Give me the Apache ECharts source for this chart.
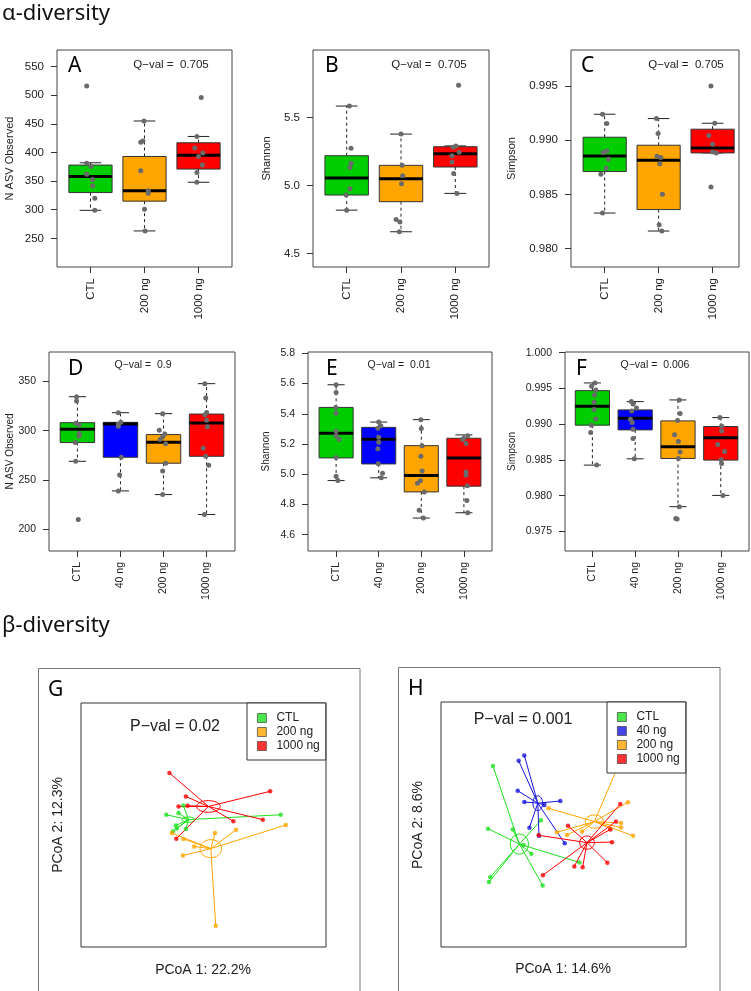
<!DOCTYPE html>
<html><head><meta charset="utf-8">
<script src="https://cdn.jsdelivr.net/npm/echarts@6/dist/echarts.min.js"></script>
<style>html,body{margin:0;padding:0;background:#fff}#c{width:751px;height:991px}</style>
</head><body><div id="c"></div>
<script>
// ---------------- DATA ----------------
const catsABC = ['CTL', '200 ng', '1000 ng'];
const catsDEF = ['CTL', '40 ng', '200 ng', '1000 ng'];

// box stats per category: [lower whisker, Q1, median, Q3, upper whisker]
const boxA = [[299, 330, 358, 378, 382], [263, 315, 333, 393, 455], [348, 371, 395, 417, 428]];
const boxB = [[4.818, 4.929, 5.054, 5.218, 5.583], [4.659, 4.880, 5.049, 5.147, 5.377], [4.941, 5.135, 5.232, 5.284, 5.290]];
const boxC = [[0.98328, 0.98711, 0.98855, 0.99028, 0.99240], [0.98162, 0.98360, 0.98815, 0.98954, 0.99200], [0.98883, 0.98883, 0.98929, 0.99102, 0.99157]];
const boxD = [[268.9, 287.9, 301.3, 308.1, 334.4], [238.9, 273.0, 306.7, 308.4, 318.2], [235.2, 267.0, 288.2, 296.0, 317.2], [215.0, 274.0, 307.7, 316.8, 347.6]];
const boxE = [[4.958, 5.108, 5.271, 5.442, 5.592], [4.976, 5.068, 5.231, 5.310, 5.345], [4.710, 4.883, 4.991, 5.189, 5.361], [4.745, 4.921, 5.108, 5.238, 5.260]];
const boxF = [[0.98427, 0.98986, 0.99251, 0.99469, 0.99577], [0.98515, 0.98920, 0.99084, 0.99200, 0.99316], [0.97845, 0.98520, 0.98683, 0.99046, 0.99339], [0.98003, 0.98497, 0.98809, 0.98967, 0.99092]];

// sample points per category: [jitter offset, value]
const ptsA = [
  [[-0.07, 516], [-0.07, 381], [0.01, 376], [-0.07, 362], [0.04, 353], [0.04, 342], [0.08, 320], [0.08, 299]],
  [[-0.01, 455], [-0.07, 418], [-0.03, 420], [-0.07, 368], [0.07, 333], [0.07, 329], [0, 301], [0.01, 263]],
  [[0.05, 496], [-0.03, 428], [-0.07, 408], [0.08, 399], [0, 393], [0.07, 378], [-0.03, 365], [-0.03, 348]]
];
const ptsB = [
  [[0.05, 5.583], [0.08, 5.272], [0.08, 5.162], [0.06, 5.132], [0.06, 4.975], [-0.01, 4.929], [0, 4.818]],
  [[0, 5.377], [0.02, 5.147], [0.03, 5.071], [0.01, 5.012], [-0.09, 4.750], [-0.02, 4.730], [-0.03, 4.659]],
  [[0.06, 5.735], [0.01, 5.290], [-0.04, 5.280], [0.07, 5.243], [-0.06, 5.218], [-0.06, 5.171], [-0.03, 5.088], [0.03, 4.941]]
];
const ptsC = [
  [[-0.04, 0.99240], [0.04, 0.99154], [-0.03, 0.98886], [0.04, 0.98901], [0.07, 0.98824], [0.03, 0.98744], [-0.07, 0.98686], [-0.04, 0.98328]],
  [[-0.04, 0.99200], [-0.01, 0.99062], [-0.03, 0.98852], [0.04, 0.98840], [0.02, 0.98784], [0.07, 0.98501], [0.01, 0.98221], [0.06, 0.98162]],
  [[-0.03, 0.99500], [0.04, 0.99157], [-0.07, 0.99043], [0, 0.98963], [0, 0.98892], [0.07, 0.98883], [-0.03, 0.98568]]
];
const ptsD = [
  [[-0.02, 334.4], [-0.02, 330.0], [-0.04, 307.4], [0.04, 305.7], [0.04, 297.0], [0.04, 294.6], [-0.05, 288.0], [-0.04, 268.9], [0.02, 209.9]],
  [[-0.05, 318.2], [0.01, 308.4], [-0.05, 306.7], [-0.05, 304.4], [0.02, 273.0], [-0.02, 255.0], [-0.05, 238.9]],
  [[-0.02, 317.2], [-0.10, 300.3], [0.03, 296.6], [-0.02, 293.6], [-0.08, 290.9], [0.05, 286.8], [0.05, 267.0], [-0.02, 259.2], [-0.02, 235.2]],
  [[-0.04, 347.6], [-0.02, 333.0], [-0.04, 316.2], [0, 318.5], [0, 310.4], [0.02, 304.0], [-0.08, 282.1], [-0.02, 274.0], [0.05, 265.0], [-0.05, 215.0]]
];
const ptsE = [
  [[0, 5.592], [0, 5.541], [-0.01, 5.442], [0, 5.403], [0, 5.284], [0, 5.255], [0.07, 5.231], [0, 5.110], [0, 4.987], [0.04, 4.958]],
  [[0, 5.345], [0.05, 5.320], [-0.02, 5.304], [0, 5.244], [0, 5.211], [-0.02, 5.169], [-0.01, 5.070], [0.09, 5.007], [0.06, 4.976]],
  [[-0.01, 5.361], [0, 5.302], [0.02, 5.189], [-0.01, 5.119], [0.02, 5.022], [-0.02, 4.956], [-0.09, 4.941], [0.07, 4.883], [-0.05, 4.762], [0.05, 4.710]],
  [[0.09, 5.255], [-0.01, 5.236], [-0.03, 5.229], [0.05, 5.203], [0.05, 5.015], [0.05, 4.993], [0.08, 4.923], [0.07, 4.826], [0.09, 4.745]]
];
const ptsF = [
  [[0.06, 0.99577], [-0.02, 0.99531], [0.08, 0.99479], [0.05, 0.99409], [0.04, 0.99307], [0.04, 0.99204], [0.08, 0.99074], [-0.02, 0.98986], [-0.04, 0.98883], [0.10, 0.98427]],
  [[-0.09, 0.99316], [-0.05, 0.99284], [0.03, 0.99228], [-0.08, 0.99186], [-0.11, 0.99070], [-0.07, 0.99022], [-0.05, 0.98930], [-0.05, 0.98799], [-0.02, 0.98515]],
  [[0.03, 0.99339], [0.05, 0.99148], [-0.01, 0.99050], [-0.08, 0.98851], [0.01, 0.98757], [0.05, 0.98609], [0.01, 0.98520], [0.03, 0.97845], [-0.05, 0.97680], [-0.02, 0.97673]],
  [[-0.02, 0.99092], [0.02, 0.98976], [0.02, 0.98906], [-0.07, 0.98715], [0.09, 0.98617], [0.01, 0.98501], [0.02, 0.98450], [0.05, 0.98003]]
];

// y tick labels
const ticksA = [250, 300, 350, 400, 450, 500, 550];
const ticksB = [4.5, 5.0, 5.5];
const ticksC = [0.980, 0.985, 0.990, 0.995];
const ticksD = [200, 250, 300, 350];
const ticksE = [4.6, 4.8, 5.0, 5.2, 5.4, 5.6, 5.8];
const ticksF = [0.975, 0.980, 0.985, 0.990, 0.995, 1.000];

const qvals = ['0.705', '0.705', '0.705', '0.9', '0.01', '0.006'];

// PCoA scores [PCoA1, PCoA2]
const gCTL = [[-0.152, 0.042], [-0.082, 0.080], [-0.102, 0.049], [0.315, 0.042], [-0.113, -0.002], [-0.109, -0.014], [-0.125, -0.027], [-0.072, -0.016]];
const g200 = [[0.047, -0.033], [0.133, -0.019], [0.336, 0.000], [-0.129, -0.033], [-0.082, -0.057], [-0.038, -0.088], [-0.084, -0.125], [0.050, -0.413]];
const g1000 = [[-0.139, 0.213], [0.272, 0.138], [-0.072, 0.117], [-0.102, 0.076], [-0.065, 0.079], [0.122, 0.015], [0.242, 0.022], [-0.111, -0.056]];
// group centroid + ellipse semi-axes [x, y, ax, ay]  (CTL, 200 ng, 1000 ng)
const gCentroid = [[-0.061, 0.022, 0.027, 0.011], [0.030, -0.097, 0.044, 0.037], [0.020, 0.076, 0.048, 0.024]];

const hCTL = [[-0.288, 0.239], [-0.308, -0.017], [-0.207, -0.020], [-0.092, 0.017], [-0.163, -0.084], [-0.131, -0.119], [0.065, -0.155], [-0.299, -0.215], [-0.304, -0.235], [-0.085, -0.249]];
const h40 = [[-0.160, 0.282], [-0.183, 0.260], [-0.187, 0.138], [-0.160, 0.092], [-0.013, 0.096], [-0.078, 0.080], [-0.139, -0.013], [-0.100, -0.046], [0.005, -0.077]];
const h200 = [[0.221, 0.233], [0.263, 0.091], [0.235, 0.006], [0.235, -0.012], [0.191, -0.016], [0.284, -0.046], [0.014, -0.043], [-0.027, -0.032], [0.076, -0.029], [-0.061, 0.066]];
const h1000 = [[0.232, 0.084], [0.214, 0.012], [0.191, -0.020], [0.018, -0.005], [-0.101, -0.044], [0.198, -0.072], [0.179, -0.156], [0.078, -0.174], [0.044, -0.171], [-0.084, -0.207]];
// (CTL, 40 ng, 200 ng, 1000 ng)
const hCentroid = [[-0.180, -0.080, 0.037, 0.041], [-0.105, 0.087, 0.020, 0.030], [0.126, 0.012, 0.037, 0.027], [0.096, -0.074, 0.030, 0.027]];

// ---------------- STYLE / LAYOUT ----------------
const COL = { CTL: '#00CD00', '40 ng': '#0000FF', '200 ng': '#FFA500', '1000 ng': '#FF0000' };
const PCOL = { CTL: '#1EE01E', '40 ng': '#1515E0', '200 ng': '#FFA500', '1000 ng': '#FF0000' };
const FONT = '"Liberation Sans", Arial, sans-serif';
const TFONT = '"Noto Sans", "Open Sans", sans-serif';

const panels = [
  { L: 'A', cats: catsABC, box: boxA, pts: ptsA, ticks: ticksA, dec: 0, ttl: 'N ASV Observed',
    g: { left: 57, top: 50, width: 175, height: 217 }, x: [0.38, 3.62], y: [200, 579], fs: 11.5, tx: 10, lx: 68, ly: 66, qx: 171, qy: 65 },
  { L: 'B', cats: catsABC, box: boxB, pts: ptsB, ticks: ticksB, dec: 1, ttl: 'Shannon',
    g: { left: 313, top: 50, width: 176, height: 217 }, x: [0.38, 3.62], y: [4.40, 5.995], fs: 11.5, tx: 267, lx: 325, ly: 66, qx: 429, qy: 65 },
  { L: 'C', cats: catsABC, box: boxC, pts: ptsC, ticks: ticksC, dec: 3, ttl: 'Simpson',
    g: { left: 571, top: 50, width: 168, height: 217 }, x: [0.376, 3.49], y: [0.9783, 0.99833], fs: 11.5, tx: 512, lx: 581, ly: 66, qx: 686, qy: 65 },
  { L: 'D', cats: catsDEF, box: boxD, pts: ptsD, ticks: ticksD, dec: 0, ttl: 'N ASV Observed',
    g: { left: 49, top: 352, width: 186, height: 199 }, x: [0.34, 4.66], y: [178, 379.7], fs: 10.5, tx: 10, lx: 68, ly: 369, qx: 143, qy: 365 },
  { L: 'E', cats: catsDEF, box: boxE, pts: ptsE, ticks: ticksE, dec: 1, ttl: 'Shannon',
    g: { left: 308, top: 352, width: 184, height: 199 }, x: [0.34, 4.66], y: [4.492, 5.8086], fs: 10.5, tx: 266, lx: 326, ly: 369, qx: 399, qy: 365 },
  { L: 'F', cats: catsDEF, box: boxF, pts: ptsF, ticks: ticksF, dec: 3, ttl: 'Simpson',
    g: { left: 565, top: 352, width: 184, height: 199 }, x: [0.36, 4.66], y: [0.97225, 1.0001], fs: 10.5, tx: 512, lx: 576, ly: 369, qx: 655, qy: 365 }
];

const pcoa = [
  { L: 'G', names: ['CTL', '200 ng', '1000 ng'], groups: [gCTL, g200, g1000], cent: gCentroid, p: 'P\u2212val = 0.02',
    ax1: 'PCoA 1: 22.2%', ax2: 'PCoA 2: 12.3%', g: { left: 81, top: 703, width: 245, height: 244 },
    outer: [38.5, 668.5, 321.5, 330], lx: 48, ly: 690, px: 175, py: 727, a1: [203, 970], a2: [58, 825], leg: { left: 247, top: 703 } },
  { L: 'H', names: ['CTL', '40 ng', '200 ng', '1000 ng'], groups: [hCTL, h40, h200, h1000], cent: hCentroid, p: 'P\u2212val = 0.001',
    ax1: 'PCoA 1: 14.6%', ax2: 'PCoA 2: 8.6%', g: { left: 441, top: 702, width: 245, height: 245 },
    outer: [398.5, 667.5, 321.5, 330], lx: 408, ly: 689, px: 523, py: 720, a1: [563, 969], a2: [418, 825], leg: { left: 607, top: 702 } }
];

// ---------------- BUILD ----------------
const grid = [], xAxis = [], yAxis = [], series = [], graphic = [], legend = [];

function txt(text, x, y, size, opts = {}) {
  return { type: 'text', x, y, rotation: opts.rot || 0, z: 100,
    style: { text, fontSize: size, fontFamily: opts.font || FONT, fill: opts.fill || '#222',
      align: opts.align || 'center', verticalAlign: 'middle' } };
}

function boxRenderer(colors) {
  return function (params, api) {
    const g = api.value(0), lo = api.value(1), q1 = api.value(2), md = api.value(3), q3 = api.value(4), hi = api.value(5);
    const c = (x, y) => api.coord([x, y]);
    const ln = (a, b, style) => ({ type: 'line', shape: { x1: a[0], y1: a[1], x2: b[0], y2: b[1] }, style });
    const dash = { stroke: '#222', lineWidth: 1, lineDash: [3, 3] };
    const solid = { stroke: '#222', lineWidth: 1 };
    const tl = c(g - 0.4, q3), br = c(g + 0.4, q1);
    return { type: 'group', children: [
      ln(c(g, q3), c(g, hi), dash),
      ln(c(g, q1), c(g, lo), dash),
      ln(c(g - 0.2, hi), c(g + 0.2, hi), solid),
      ln(c(g - 0.2, lo), c(g + 0.2, lo), solid),
      { type: 'rect', shape: { x: tl[0], y: tl[1], width: br[0] - tl[0], height: br[1] - tl[1] },
        style: { fill: colors[params.dataIndex], stroke: '#333', lineWidth: 1 } },
      ln(c(g - 0.4, md), c(g + 0.4, md), { stroke: '#000', lineWidth: 3 })
    ] };
  };
}

panels.forEach((P, i) => {
  grid.push(Object.assign({ show: true, borderColor: '#444', borderWidth: 1, backgroundColor: 'transparent', containLabel: false, outerBoundsMode: 'none' }, P.g));
  const idx = [1, 2, 3, 4].slice(0, P.cats.length);
  xAxis.push({ type: 'value', gridIndex: i, min: P.x[0], max: P.x[1],
    axisLine: { show: false }, splitLine: { show: false },
    axisTick: { show: true, length: 6, customValues: idx, lineStyle: { color: '#333' } },
    axisLabel: { show: true, customValues: idx, rotate: 90, margin: 11, fontSize: P.fs, fontFamily: FONT, color: '#222',
      formatter: v => P.cats[Math.round(v) - 1] } });
  yAxis.push({ type: 'value', gridIndex: i, min: P.y[0], max: P.y[1],
    axisLine: { show: false }, splitLine: { show: false },
    axisTick: { show: true, length: 6, customValues: P.ticks, lineStyle: { color: '#333' } },
    axisLabel: { show: true, customValues: P.ticks, margin: 13, fontSize: P.fs, fontFamily: FONT, color: '#222',
      formatter: v => Number(v).toFixed(P.dec) } });
  const colors = P.cats.map(c => COL[c]);
  series.push({ type: 'custom', name: P.L + '-box', xAxisIndex: i, yAxisIndex: i, renderItem: boxRenderer(colors),
    encode: { x: 0, y: [1, 2, 3, 4, 5] }, data: P.box.map((b, k) => [k + 1].concat(b)), z: 2, silent: true });
  series.push({ type: 'scatter', name: P.L + '-pts', xAxisIndex: i, yAxisIndex: i, symbol: 'circle', symbolSize: 5,
    itemStyle: { color: '#6a6a6a', opacity: 1 }, z: 3, silent: true,
    data: P.pts.flatMap((arr, k) => arr.map(([o, v]) => [k + 1 + o, v])) });
  graphic.push(txt(P.L, P.lx, P.ly, 21, { font: TFONT, align: 'left', fill: '#000' }));
  graphic.push(txt('Q\u2212val =  ' + qvals[i], P.qx, P.qy, P.fs, {}));
  graphic.push(txt(P.ttl, P.tx, P.g.top + P.g.height / 2, P.fs - 0.5, { rot: Math.PI / 2 }));
});

pcoa.forEach((Q, j) => {
  const gi = panels.length + j;
  grid.push(Object.assign({ show: true, borderColor: '#333', borderWidth: 1, containLabel: false, outerBoundsMode: 'none' }, Q.g));
  xAxis.push({ type: 'value', gridIndex: gi, min: -0.5, max: 0.5, show: false });
  yAxis.push({ type: 'value', gridIndex: gi, min: -0.5, max: 0.5, show: false });
  Q.names.forEach((nm, k) => {
    const cen = Q.cent[k], col = PCOL[nm];
    series.push({ type: 'custom', name: Q.L + nm + '-spider', xAxisIndex: gi, yAxisIndex: gi, silent: true, z: 2,
      data: Q.groups[k].map(p => [p[0], p[1], cen[0], cen[1]]),
      renderItem: (params, api) => {
        const a = api.coord([api.value(0), api.value(1)]), b = api.coord([api.value(2), api.value(3)]);
        return { type: 'line', shape: { x1: a[0], y1: a[1], x2: b[0], y2: b[1] }, style: { stroke: col, lineWidth: 1 } };
      } });
    series.push({ type: 'custom', name: Q.L + nm + '-ellipse', xAxisIndex: gi, yAxisIndex: gi, silent: true, z: 2,
      data: [cen],
      renderItem: (params, api) => {
        const cx = api.value(0), cy = api.value(1);
        const p = api.coord([cx, cy]);
        const rx = api.coord([cx + api.value(2), cy])[0] - p[0];
        const ry = p[1] - api.coord([cx, cy + api.value(3)])[1];
        return { type: 'ellipse', shape: { cx: p[0], cy: p[1], rx, ry }, style: { fill: 'none', stroke: col, lineWidth: 1 } };
      } });
    series.push({ type: 'scatter', name: nm, xAxisIndex: gi, yAxisIndex: gi, symbol: 'circle', symbolSize: 4.5,
      itemStyle: { color: col }, z: 3, silent: true, data: Q.groups[k] });
  });
  legend.push({ data: Q.names, left: Q.leg.left, top: Q.leg.top, orient: 'vertical', selectedMode: false,
    icon: 'rect', itemWidth: 9, itemHeight: 9, itemGap: 2, padding: [9, 6, 8, 10],
    borderColor: '#333', borderWidth: 1, backgroundColor: '#fff', z: 20,
    itemStyle: { borderColor: '#333', borderWidth: 0.8 },
    textStyle: { fontSize: 12, fontFamily: FONT, color: '#222', lineHeight: 12, padding: [0, 0, 0, 5] } });
  graphic.push({ type: 'rect', z: 0, shape: { x: Q.outer[0], y: Q.outer[1], width: Q.outer[2], height: Q.outer[3] },
    style: { fill: 'none', stroke: '#777', lineWidth: 1 } });
  graphic.push(txt(Q.L, Q.lx, Q.ly, 21, { font: TFONT, align: 'left', fill: '#000' }));
  graphic.push(txt(Q.p, Q.px, Q.py, 16, {}));
  graphic.push(txt(Q.ax1, Q.a1[0], Q.a1[1], 14, {}));
  graphic.push(txt(Q.ax2, Q.a2[0], Q.a2[1], 14, { rot: Math.PI / 2 }));
});

graphic.push(txt('\u03b1-diversity', 2, 14, 22, { font: TFONT, align: 'left', fill: '#111' }));
graphic.push(txt('\u03b2-diversity', 2, 626, 22, { font: TFONT, align: 'left', fill: '#111' }));

const chart = echarts.init(document.getElementById('c'), null, { renderer: 'canvas' });
chart.setOption({ animation: false, backgroundColor: '#fff', grid, xAxis, yAxis, series, legend, graphic });
</script></body></html>
